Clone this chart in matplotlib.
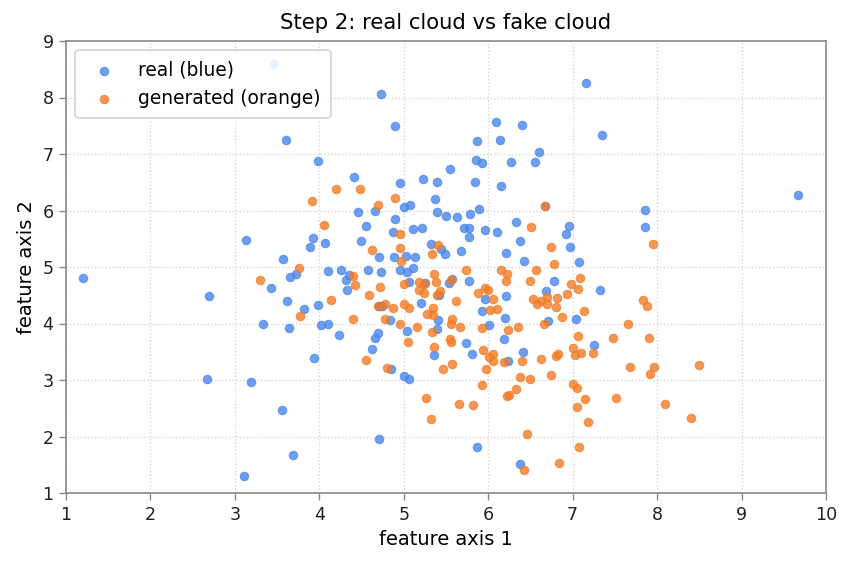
import matplotlib
matplotlib.use("Agg")
import matplotlib.pyplot as plt
import numpy as np

real_x = [3.46,4.73,7.16,4.90,3.60,6.09,6.40,5.87,6.14,7.35,3.98,6.60,5.86,5.93,6.27,6.55,5.55,4.41,4.96,5.23,
          5.39,5.84,6.15,5.37,6.67,5.39,4.46,4.66,5.00,5.07,4.90,4.55,4.87,5.11,5.22,3.93,3.89,4.07,4.49,3.57,
          4.71,4.88,5.03,5.13,5.32,5.44,5.49,5.50,5.63,5.78,5.89,6.33,5.71,5.77,5.96,6.10,5.77,6.96,6.92,6.38,
          6.97,5.68,6.21,6.42,7.08,9.67,7.86,7.86,3.13,
          1.20,2.69,2.67,3.19,3.11,3.65,3.72,4.10,4.26,4.35,4.32,4.33,4.58,4.73,4.96,5.04,5.11,5.06,5.25,5.42,
          3.43,3.62,3.82,3.98,3.33,3.64,4.02,4.10,4.23,3.94,4.71,4.74,4.84,5.04,5.20,5.41,5.39,5.36,4.69,4.66,
          4.62,4.85,5.00,5.06,3.56,4.71,3.69,5.57,5.54,5.77,6.21,5.96,5.93,6.20,6.01,6.19,5.74,5.81,6.23,6.41,
          5.87,6.38,7.25,7.04,6.71,6.78,6.68,7.32]
real_y = [8.59,8.06,8.26,7.50,7.25,7.57,7.51,7.23,7.25,7.34,6.88,7.04,6.90,6.84,6.86,6.86,6.73,6.60,6.49,6.56,
          6.50,6.50,6.43,6.20,6.08,5.97,5.97,5.99,6.06,6.10,5.85,5.72,5.62,5.67,5.69,5.51,5.35,5.42,5.46,5.14,
          5.18,5.18,5.20,5.18,5.41,5.32,5.23,5.90,5.88,5.94,6.03,5.80,5.69,5.69,5.66,5.62,5.53,5.73,5.58,5.46,
          5.35,5.28,5.25,5.11,5.09,6.27,6.01,5.71,5.48,
          4.81,4.49,3.02,2.97,1.30,4.83,4.88,4.93,4.95,4.85,4.77,4.59,4.95,4.91,4.95,4.91,4.98,4.73,4.72,4.50,
          4.63,4.40,4.26,4.33,3.99,3.92,3.97,3.99,3.80,3.39,4.31,4.31,4.06,3.87,4.36,4.06,3.90,3.44,3.83,3.74,
          3.55,3.19,3.07,3.02,2.47,1.96,1.67,4.79,4.72,4.75,4.49,4.43,4.22,4.10,3.97,3.73,3.65,3.46,3.34,3.50,
          1.81,1.51,3.62,4.08,4.04,4.75,4.58,4.59]

gen_x = [4.20,4.48,3.91,4.70,4.90,4.05,4.96,4.62,4.96,4.97,5.33,5.40,3.76,6.67,6.51,6.74,6.78,7.95,
         3.30,4.40,4.42,4.72,4.59,5.00,5.18,5.24,5.18,5.24,5.36,5.38,5.43,5.39,4.14,3.77,4.40,4.69,4.78,4.87,
         5.00,5.06,4.78,4.96,5.05,5.16,5.28,5.35,5.35,5.33,5.36,5.46,4.55,4.80,5.26,5.32,
         5.74,6.15,6.22,6.21,6.56,5.56,5.88,5.96,6.00,6.06,5.62,6.02,6.10,5.57,5.56,5.67,5.93,6.23,6.35,5.55,
         5.56,5.94,6.01,6.06,6.06,6.19,6.40,6.63,6.80,6.83,6.74,5.57,5.97,5.93,6.38,6.49,6.33,6.22,6.25,5.65,
         5.82,6.46,6.42,6.84,7.08,7.18,7.05,7.15,7.51,7.00,7.05,7.24,7.00,7.03,7.10,7.06,7.48,7.68,7.66,7.13,
         6.87,6.66,6.50,6.53,6.58,6.63,6.70,6.70,6.80,6.81,6.93,6.98,7.06,7.09,
         7.83,7.88,7.90,7.96,7.92,8.50,8.09,8.40]
gen_y = [6.38,6.38,6.17,6.10,6.22,5.75,5.58,5.30,5.33,5.10,5.23,5.39,4.98,6.08,5.71,5.35,5.05,5.41,
         4.77,4.84,4.68,4.65,4.50,4.70,4.73,4.70,4.59,4.54,4.88,4.73,4.58,4.50,4.42,4.13,4.08,4.31,4.35,4.27,
         4.35,4.27,4.08,3.99,3.67,3.94,4.17,4.27,4.15,3.85,3.58,3.20,3.35,3.21,2.68,2.31,
         4.95,4.95,4.88,4.75,4.95,4.77,4.54,4.63,4.59,4.43,4.40,4.24,4.26,4.08,3.99,3.94,3.92,3.88,3.94,3.73,
         3.67,3.53,3.41,3.46,3.34,3.32,3.34,3.37,3.42,3.46,3.09,3.28,3.19,2.91,3.05,3.02,2.84,2.72,2.74,2.58,
         2.56,2.04,1.41,1.53,1.81,2.25,2.52,2.66,2.68,2.93,2.86,3.48,3.57,3.44,3.48,3.78,3.74,3.23,4.00,4.22,
         4.12,3.99,4.75,4.43,4.35,4.40,4.47,4.35,4.29,4.45,4.52,4.70,4.61,4.81,
         4.42,4.31,3.74,3.23,3.11,3.26,2.58,2.33]

x_ticks = [1, 2, 3, 4, 5, 6, 7, 8, 9, 10]
y_ticks = [1, 2, 3, 4, 5, 6, 7, 8, 9]

fig = plt.figure(figsize=(7.1, 4.725), dpi=120)
ax = fig.add_axes([66/852, 1 - 493/567, 760/852, 452/567])

blue = "#4a86ec"
orange = "#f37c25"
ax.scatter(real_x, real_y, s=26, color=blue, alpha=0.8, edgecolors=blue, linewidths=0.6,
           label="real (blue)", zorder=3)
ax.scatter(gen_x, gen_y, s=26, color=orange, alpha=0.8, edgecolors=orange, linewidths=0.6,
           label="generated (orange)", zorder=3)

ax.set_xlim(1, 10)
ax.set_ylim(1, 9)
ax.set_xticks(x_ticks)
ax.set_yticks(y_ticks)
ax.grid(True, linestyle=":", color="#d4d4d4", linewidth=0.8)
ax.set_axisbelow(True)
for s in ax.spines.values():
    s.set_color("#888888")
    s.set_linewidth(1.0)
ax.tick_params(colors="#222222", labelsize=10.5, length=4, color="#888888")
ax.set_xlabel("feature axis 1", fontsize=11.6)
ax.set_ylabel("feature axis 2", fontsize=11.6)
ax.set_title("Step 2: real cloud vs fake cloud", fontsize=12.7, pad=7)
leg = ax.legend(loc="upper left", fontsize=11.2, markerscale=1.0, framealpha=0.85,
                borderpad=0.55, handletextpad=0.8)

fig.savefig("out.png", dpi=120)
